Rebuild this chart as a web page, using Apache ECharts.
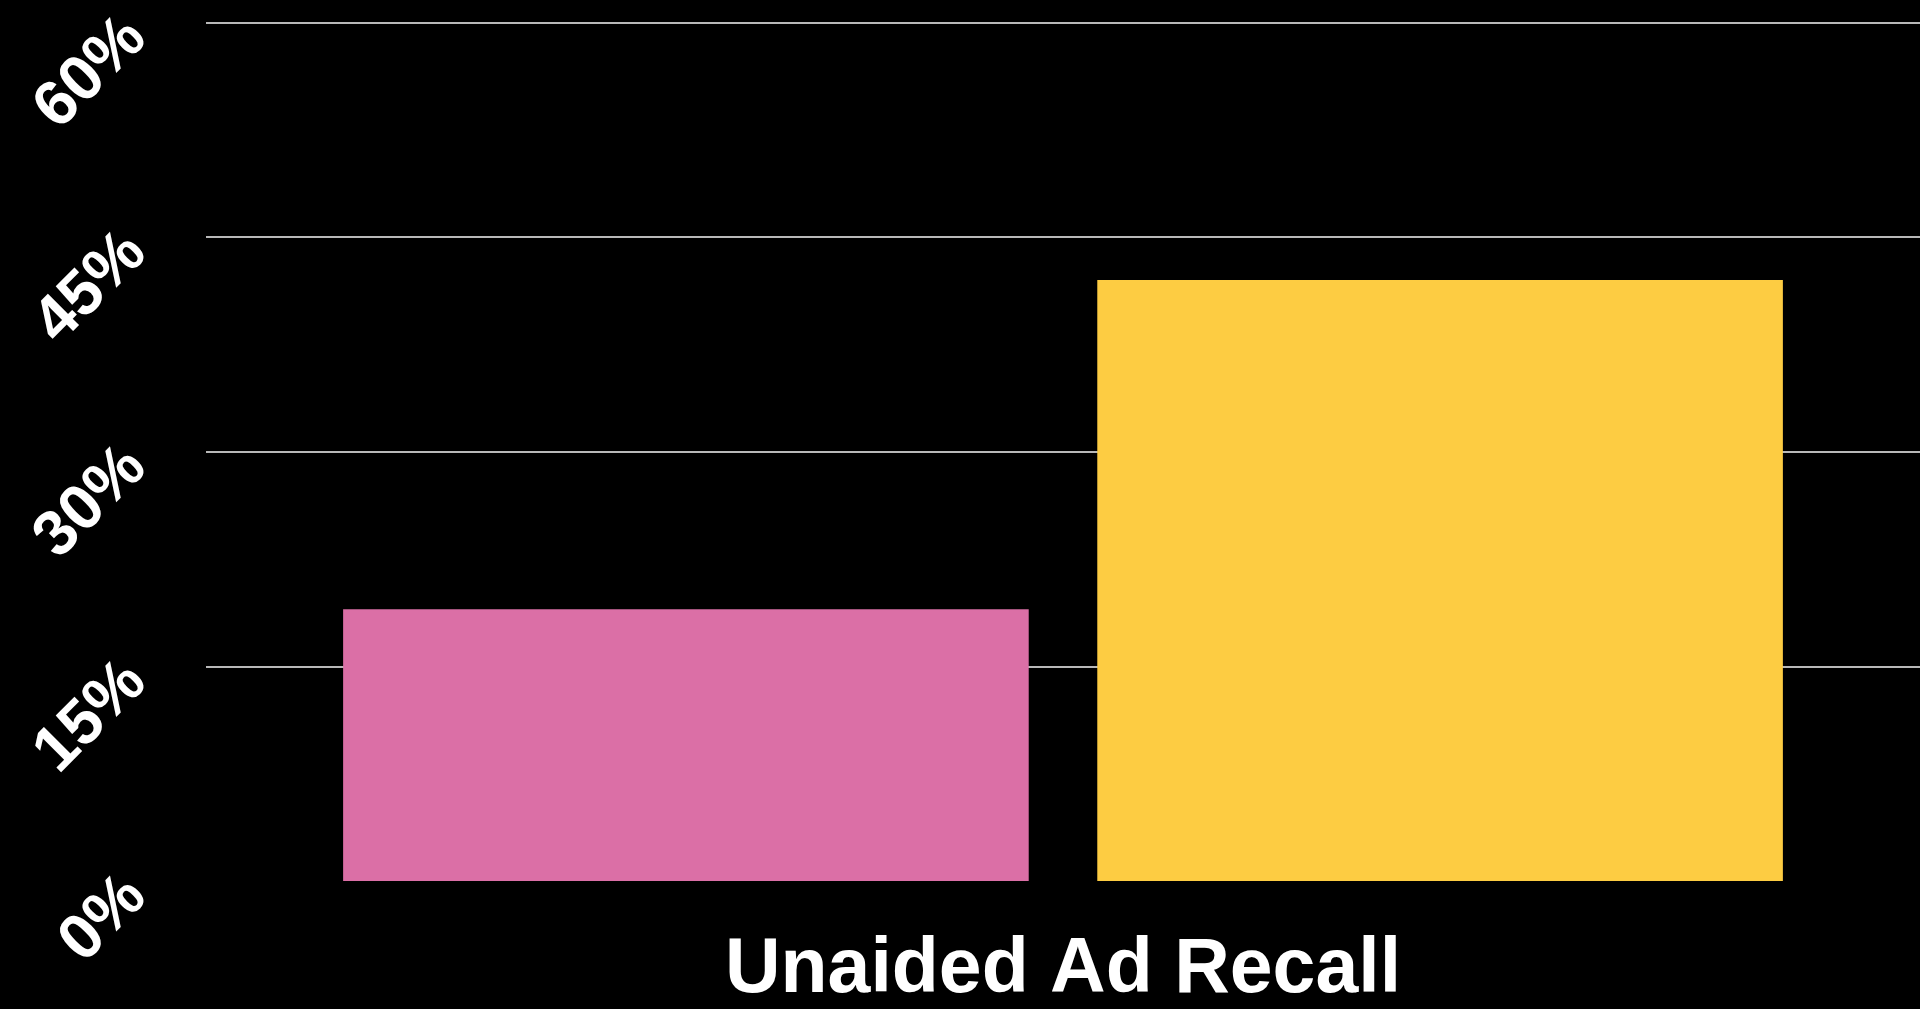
<!DOCTYPE html>
<html>
<head>
<meta charset="utf-8">
<style>
  html, body { margin: 0; padding: 0; background: #000; }
  #chart { width: 1920px; height: 1009px; }
</style>
<script src="https://cdn.jsdelivr.net/npm/echarts@6/dist/echarts.min.js"></script>
</head>
<body>
<div id="chart"></div>
<script>
// Category and the two recall groups
const categories = ['Unaided Ad Recall'];
const groupA = [19];
const groupB = [42];
const yTicks = { min: 0, max: 60, interval: 15 };

const chart = echarts.init(document.getElementById('chart'));
chart.setOption({
  backgroundColor: '#000000',
  animation: false,
  grid: { left: 206, right: 0, top: 22.5, bottom: 126.5, containLabel: false },
  xAxis: {
    type: 'category',
    data: categories,
    axisLine: { show: false },
    axisTick: { show: false },
    axisLabel: {
      color: '#ffffff',
      fontFamily: '"Liberation Sans", Arial, sans-serif',
      fontWeight: 'bold',
      fontSize: 77,
      margin: 51
    }
  },
  yAxis: {
    type: 'value',
    min: yTicks.min,
    max: yTicks.max,
    interval: yTicks.interval,
    axisLine: { show: false },
    axisTick: { show: false },
    splitLine: { showMinLine: false, lineStyle: { color: '#b8b8b8', width: 2 } },
    axisLabel: {
      color: '#ffffff',
      fontFamily: '"Liberation Sans", Arial, sans-serif',
      fontWeight: 'bold',
      fontSize: 64,
      rotate: 45,
      margin: 64,
      padding: [20, 8, 0, 0],
      formatter: v => v + '%'
    }
  },
  series: [
    {
      type: 'bar',
      data: groupA,
      itemStyle: { color: '#DB6FA6' },
      barGap: '10%',
      barCategoryGap: '16%'
    },
    {
      type: 'bar',
      data: groupB,
      itemStyle: { color: '#FDCC42' },
      barGap: '10%',
      barCategoryGap: '16%'
    }
  ]
});
</script>
</body>
</html>
